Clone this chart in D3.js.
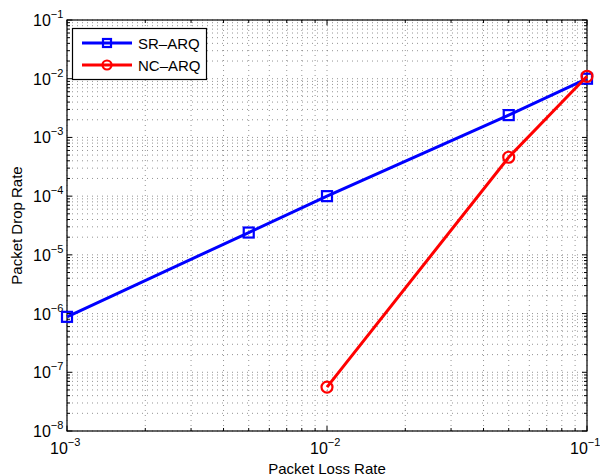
<!DOCTYPE html>
<html lang="en">
<head>
  <meta charset="UTF-8">
  <title>Packet Drop Rate</title>
  <style>
    body { margin: 0; background: #fff; }
    svg { display: block; font-family: "Liberation Sans", Arial, sans-serif; }
  </style>
</head>
<body>
  <svg width="600" height="476"></svg>
  <script src="https://d3js.org/d3.v7.min.js"></script>
  <script>
    // data
    const lossRate = [1e-3, 5e-3, 1e-2, 5e-2, 1e-1];
    const srArq = [8.8e-7, 2.4e-5, 1e-4, 2.4e-3, 1e-2];
    const ncLoss = [1e-2, 5e-2, 1e-1];
    const ncArq = [5.6e-8, 4.6e-4, 1.1e-2];
    const xTicks = [1e-3, 1e-2, 1e-1];
    const yTicks = [1e-8, 1e-7, 1e-6, 1e-5, 1e-4, 1e-3, 1e-2, 1e-1];

    const svg = d3.select("svg");
    const pl = 67, pr = 587, pt = 20, pb = 431;

    const x = d3.scaleLog().domain([1e-3, 1e-1]).range([pl, pr]);
    const y = d3.scaleLog().domain([1e-8, 1e-1]).range([pb, pt]);

    // minor positions for grid + ticks
    const minorX = [];
    for (let e = -3; e < -1; e++) for (let k = 2; k <= 9; k++) minorX.push(k * Math.pow(10, e));
    const minorY = [];
    for (let e = -8; e < -1; e++) for (let k = 2; k <= 9; k++) minorY.push(k * Math.pow(10, e));

    const grid = svg.append("g")
      .attr("stroke", "#000")
      .attr("stroke-width", 0.7)
      .attr("stroke-dasharray", "1 4")
      .attr("opacity", 0.6);

    grid.selectAll(null)
      .data(minorX.concat(xTicks))
      .join("line")
      .attr("x1", d => x(d)).attr("x2", d => x(d))
      .attr("y1", pt).attr("y2", pb);

    grid.selectAll(null)
      .data(minorY.concat(yTicks))
      .join("line")
      .attr("y1", d => y(d)).attr("y2", d => y(d))
      .attr("x1", pl).attr("x2", pr);

    // inward ticks on all four sides
    const ticks = svg.append("g").attr("stroke", "#000").attr("stroke-width", 1);
    [[xTicks, 5], [minorX, 3]].forEach(([vals, len]) => {
      ticks.selectAll(null).data(vals).join("line")
        .attr("x1", d => x(d)).attr("x2", d => x(d))
        .attr("y1", pb).attr("y2", pb - len);
      ticks.selectAll(null).data(vals).join("line")
        .attr("x1", d => x(d)).attr("x2", d => x(d))
        .attr("y1", pt).attr("y2", pt + len);
    });
    [[yTicks, 5], [minorY, 3]].forEach(([vals, len]) => {
      ticks.selectAll(null).data(vals).join("line")
        .attr("y1", d => y(d)).attr("y2", d => y(d))
        .attr("x1", pl).attr("x2", pl + len);
      ticks.selectAll(null).data(vals).join("line")
        .attr("y1", d => y(d)).attr("y2", d => y(d))
        .attr("x1", pr).attr("x2", pr - len);
    });

    svg.append("rect")
      .attr("x", pl).attr("y", pt)
      .attr("width", pr - pl).attr("height", pb - pt)
      .attr("fill", "none").attr("stroke", "#000").attr("stroke-width", 1.2);

    // tick labels: 10 with superscript exponent
    function powLabel(sel) {
      sel.append("tspan").text("10");
      sel.append("tspan")
        .attr("dy", -8).attr("font-size", 11)
        .text(d => "\u2212" + Math.round(-Math.log10(d)));
    }

    svg.append("g").selectAll("text")
      .data(yTicks)
      .join("text")
      .attr("x", pl - 34)
      .attr("y", d => y(d) + 6)
      .attr("font-size", 16)
      .call(powLabel);

    svg.append("g").selectAll("text")
      .data(xTicks)
      .join("text")
      .attr("x", d => x(d) - 17)
      .attr("y", pb + 23)
      .attr("font-size", 16)
      .call(powLabel);

    svg.append("text")
      .attr("x", (pl + pr) / 2)
      .attr("y", 474)
      .attr("text-anchor", "middle")
      .attr("font-size", 15)
      .text("Packet Loss Rate");

    svg.append("text")
      .attr("transform", `translate(22,${(pt + pb) / 2}) rotate(-90)`)
      .attr("text-anchor", "middle")
      .attr("font-size", 15)
      .text("Packet Drop Rate");

    // series
    const line = d3.line().x(d => x(d[0])).y(d => y(d[1]));
    const sr = d3.zip(lossRate, srArq);
    const nc = d3.zip(ncLoss, ncArq);

    svg.append("path").datum(sr).attr("d", line)
      .attr("fill", "none").attr("stroke", "#0000ff").attr("stroke-width", 3);
    svg.append("g").selectAll("rect").data(sr).join("rect")
      .attr("x", d => x(d[0]) - 5).attr("y", d => y(d[1]) - 5)
      .attr("width", 10).attr("height", 10)
      .attr("fill", "none").attr("stroke", "#0000ff").attr("stroke-width", 2.2);

    svg.append("path").datum(nc).attr("d", line)
      .attr("fill", "none").attr("stroke", "#ff0000").attr("stroke-width", 3);
    svg.append("g").selectAll("circle").data(nc).join("circle")
      .attr("cx", d => x(d[0])).attr("cy", d => y(d[1]))
      .attr("r", 5.5)
      .attr("fill", "none").attr("stroke", "#ff0000").attr("stroke-width", 2.2);

    // legend
    const lg = svg.append("g");
    lg.append("rect")
      .attr("x", 72.5).attr("y", 28.5).attr("width", 134).attr("height", 51)
      .attr("fill", "#fff").attr("stroke", "#000").attr("stroke-width", 1.2);
    const items = [["SR\u2013ARQ", "#0000ff", "sq"], ["NC\u2013ARQ", "#ff0000", "ci"]];
    items.forEach(([name, col, mk], i) => {
      const cy = 43 + i * 22;
      lg.append("line").attr("x1", 82).attr("x2", 132).attr("y1", cy).attr("y2", cy)
        .attr("stroke", col).attr("stroke-width", 3);
      if (mk === "sq") {
        lg.append("rect").attr("x", 103).attr("y", cy - 4).attr("width", 8).attr("height", 8)
          .attr("fill", "none").attr("stroke", col).attr("stroke-width", 2.2);
      } else {
        lg.append("circle").attr("cx", 107).attr("cy", cy).attr("r", 4.5)
          .attr("fill", "none").attr("stroke", col).attr("stroke-width", 2.2);
      }
      lg.append("text").attr("x", 138).attr("y", cy + 5.5).attr("font-size", 15).text(name);
    });
  </script>
</body>
</html>
